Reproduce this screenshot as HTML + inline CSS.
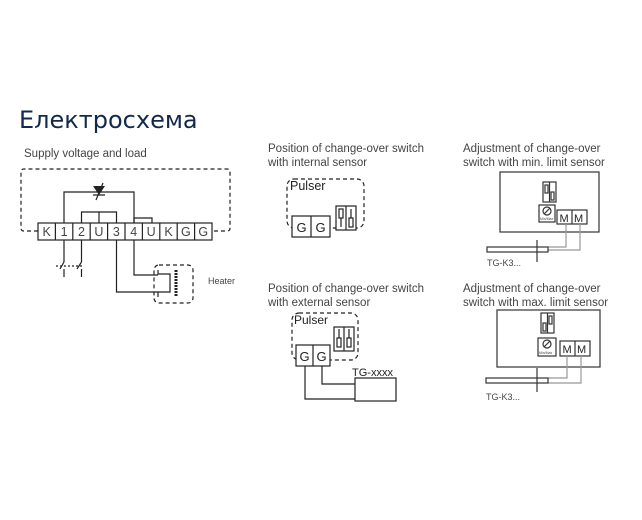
<!DOCTYPE html>
<html><head><meta charset="utf-8"><style>
html,body{margin:0;padding:0;background:#fff;width:642px;height:520px;overflow:hidden}
svg{display:block}
text{font-family:"Liberation Sans",sans-serif;fill:#444}
</style></head><body>
<svg width="642" height="520" viewBox="0 0 642 520" xmlns="http://www.w3.org/2000/svg">
<text x="19" y="128" style="font-size:24px;fill:#13294b;font-family:'DejaVu Sans','Liberation Sans',sans-serif">Електросхема</text>

<!-- Left diagram -->
<text x="24" y="157" font-size="11.5">Supply voltage and load</text>
<g fill="none" stroke="#222" stroke-width="1.2">
<path d="M38 231 H24 Q21 231 21 228 V172 Q21 169 24 169 H227 Q230 169 230 172 V228 Q230 231 227 231 H212" stroke-dasharray="4,3"/>
<rect x="38" y="223" width="174" height="17" fill="#fff"/>
<path d="M55.4 223V240M72.8 223V240M90.2 223V240M107.6 223V240M125 223V240M142.4 223V240M159.8 223V240M177.2 223V240M194.6 223V240"/>
<path d="M64 223V192H134V223"/>
<path d="M81.5 223V212H116.5V223M99 212V223"/>
<path d="M134 223V218H152V223"/>
<path d="M64 240V262M81.5 240V262M64 269V277M81.5 269V277"/>
<path d="M60 269L64 262M77 269L81.5 262"/>
<path d="M56 266H82" stroke-dasharray="2,2"/>
<path d="M116.5 240V292H158M134 240V275H158"/>
<path d="M158 270V274H170V292H158V297"/>
<rect x="154" y="265" width="39" height="38" rx="5" stroke-dasharray="4,3"/>
<path d="M176 270V296" stroke-width="3" stroke-dasharray="2,1"/>
</g>
<path d="M93 186L105 186L99 195Z" fill="#222"/>
<path d="M93 195H105M96 200L103 183" stroke="#222" stroke-width="1.2"/>
<g font-size="12.5" fill="#222" text-anchor="middle" style="fill:#222">
<text x="46.7" y="236">K</text><text x="64.1" y="236">1</text><text x="81.5" y="236">2</text><text x="98.9" y="236">U</text><text x="116.3" y="236">3</text><text x="133.7" y="236">4</text><text x="151.1" y="236">U</text><text x="168.5" y="236">K</text><text x="185.9" y="236">G</text><text x="203.3" y="236">G</text>
</g>
<text x="208" y="284" font-size="9">Heater</text>

<!-- middle top -->
<text x="268" y="152" font-size="11.5">Position of change-over switch</text>
<text x="268" y="166" font-size="11.5">with internal sensor</text>
<g fill="none" stroke="#222" stroke-width="1.2">
<rect x="287" y="179" width="77" height="49" rx="7" stroke-dasharray="4,3"/>
<rect x="292" y="216" width="38" height="21" fill="#fff"/><path d="M311 216V237"/>
<rect x="336" y="206" width="20" height="24" fill="#fff"/><path d="M346 206V230"/>
<rect x="339" y="209" width="4" height="9"/><path d="M341 218V227"/>
<rect x="349" y="218" width="4" height="9"/><path d="M351 209V218"/>
</g>
<text x="290" y="190" font-size="12.5" style="fill:#222">Pulser</text>
<text x="301.5" y="232" font-size="13" text-anchor="middle" style="fill:#222">G</text>
<text x="320.5" y="232" font-size="13" text-anchor="middle" style="fill:#222">G</text>

<!-- middle bottom -->
<text x="268" y="292" font-size="11.5">Position of change-over switch</text>
<text x="268" y="306" font-size="11.5">with external sensor</text>
<g fill="none" stroke="#222" stroke-width="1.2">
<rect x="292" y="313" width="66" height="47" rx="7" stroke-dasharray="4,3"/>
<path d="M305 366V399H355M322 366V384H355"/>
<rect x="355" y="378" width="41" height="23"/>
<rect x="296" y="345" width="34" height="21" fill="#fff"/><path d="M313 345V366"/>
<rect x="334" y="327" width="20" height="24" fill="#fff"/><path d="M344 327V351"/>
<rect x="337" y="338" width="4" height="9"/><path d="M339 329V338"/>
<rect x="347" y="338" width="4" height="9"/><path d="M349 329V338"/>
</g>
<text x="294" y="324" font-size="12" style="fill:#222">Pulser</text>
<text x="304.5" y="361" font-size="13" text-anchor="middle" style="fill:#222">G</text>
<text x="321.5" y="361" font-size="13" text-anchor="middle" style="fill:#222">G</text>
<text x="352" y="376" font-size="11" style="fill:#222">TG-xxxx</text>

<!-- right top -->
<text x="463" y="152" font-size="11.5">Adjustment of change-over</text>
<text x="463" y="166" font-size="11.5">switch with min. limit sensor</text>
<g fill="none" stroke="#333" stroke-width="1.2">
<rect x="500" y="172" width="99" height="60"/>
<rect x="557" y="210" width="30" height="14"/><path d="M572 210V224"/>
<path d="M566 224V247H548M580 224V250H548" stroke="#999"/>
<rect x="487" y="247" width="61" height="5"/>
<path d="M537 240V262"/>
<rect x="543" y="182" width="13" height="20"/><path d="M549.5 182V202"/>
<rect x="545" y="185" width="3" height="8"/><rect x="551" y="192" width="3" height="8"/>
<rect x="539" y="205" width="16" height="17"/>
<circle cx="547" cy="211" r="4"/><path d="M544 214L550 208"/>
</g>
<text x="559.5" y="222" font-size="11" style="fill:#222">M</text><text x="574" y="222" font-size="11" style="fill:#222">M</text>
<text x="540" y="220" font-size="3.5">Min/Max</text>
<text x="487" y="266" font-size="9">TG-K3...</text>

<!-- right bottom -->
<text x="463" y="292" font-size="11.5">Adjustment of change-over</text>
<text x="463" y="306" font-size="11.5">switch with max. limit sensor</text>
<g fill="none" stroke="#333" stroke-width="1.2">
<rect x="497" y="310" width="103" height="57"/>
<rect x="560" y="341" width="30" height="15"/><path d="M575 341V356"/>
<path d="M567 356V378H548M581 356V383H548" stroke="#999"/>
<rect x="486" y="378" width="62" height="5"/>
<path d="M537 368V392"/>
<rect x="541" y="313" width="13" height="20"/><path d="M547.5 313V333"/>
<rect x="543" y="323" width="3" height="8"/><rect x="549" y="316" width="3" height="8"/>
<rect x="538" y="338" width="18" height="18"/>
<circle cx="547" cy="344" r="4"/><path d="M544 347L550 341"/>
</g>
<text x="562.5" y="353" font-size="11" style="fill:#222">M</text><text x="577" y="353" font-size="11" style="fill:#222">M</text>
<text x="539" y="354" font-size="3.5">Min/Max</text>
<text x="486" y="400" font-size="9">TG-K3...</text>
</svg>
</body></html>
